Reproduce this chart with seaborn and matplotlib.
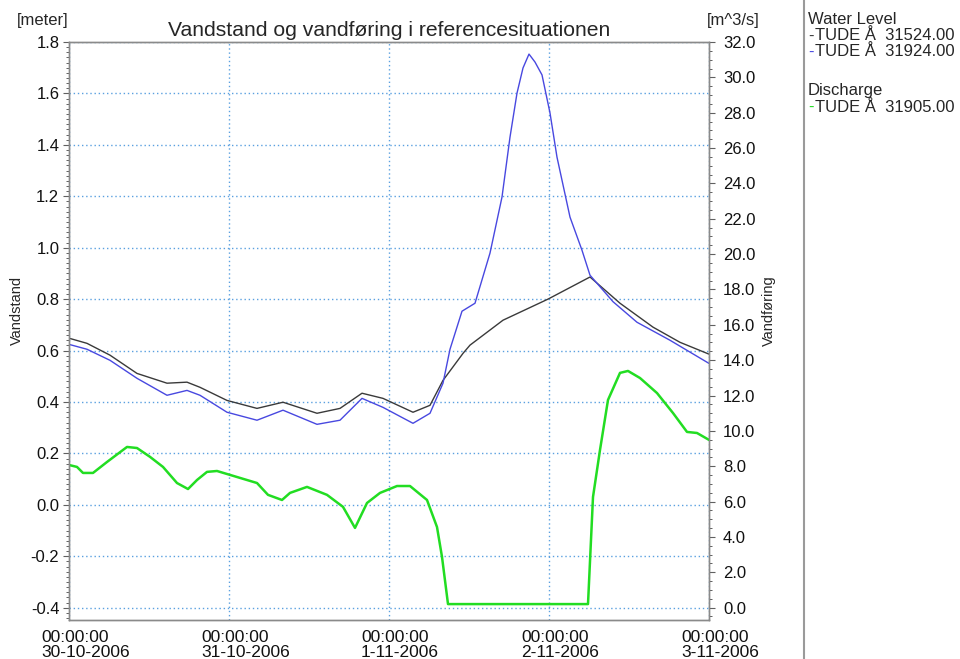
import pandas as pd
import matplotlib
matplotlib.use("Agg")
import matplotlib.pyplot as plt
import matplotlib.dates as mdates
import matplotlib.transforms as mtransforms
from matplotlib.ticker import MultipleLocator, FormatStrFormatter
from matplotlib.lines import Line2D
import seaborn as sns

# data (hours after 30-10-2006 00:00)
start = pd.Timestamp("2006-10-30 00:00")

wl1_hours = [0, 2.7, 6.15, 10.2, 14.7, 17.7, 19.65, 23.7, 28.2, 32.1, 37.2, 40.65,
             43.95, 47.1, 51.6, 54.15, 56.1, 59.1, 60.15, 65.1, 71.85, 78.15,
             82.65, 87.6, 91.65, 96]
wl1_level = [0.648, 0.628, 0.582, 0.511, 0.473, 0.477, 0.457, 0.406, 0.375, 0.399,
             0.356, 0.375, 0.434, 0.414, 0.360, 0.387, 0.484, 0.589, 0.621, 0.718,
             0.800, 0.886, 0.784, 0.691, 0.632, 0.586]

wl2_hours = [0, 2.7, 6.15, 10.2, 14.7, 17.7, 19.65, 23.7, 28.2, 32.1, 37.2, 40.65,
             43.95, 47.1, 51.6, 54.15, 56.1, 57.15, 58.95, 60.9, 63.15, 64.95,
             66.15, 67.2, 68.1, 69.0, 69.9, 70.95, 72.15, 73.2, 75.15, 76.95,
             78.15, 81.6, 85.2, 90.15, 96]
wl2_level = [0.624, 0.605, 0.562, 0.492, 0.426, 0.445, 0.426, 0.360, 0.329, 0.368,
             0.313, 0.329, 0.414, 0.379, 0.317, 0.356, 0.473, 0.605, 0.753, 0.784,
             0.979, 1.197, 1.430, 1.601, 1.699, 1.753, 1.722, 1.672, 1.524, 1.352,
             1.119, 0.990, 0.893, 0.790, 0.710, 0.640, 0.550]

q_hours = [0, 1.2, 2.1, 3.6, 5.7, 8.7, 10.2, 12.15, 14.1, 16.2, 17.85, 19.2, 20.7,
           22.2, 25.2, 28.2, 29.85, 31.95, 33.15, 35.7, 38.7, 41.1, 42.9, 44.7,
           46.65, 49.2, 51.15, 53.7, 55.2, 55.95, 56.85, 77.85, 78.6, 79.65,
           80.85, 82.65, 83.85, 85.65, 88.2, 90.6, 92.7, 94.2, 96]
q_flow = [8.07, 7.96, 7.62, 7.62, 8.24, 9.09, 9.03, 8.53, 7.96, 7.05, 6.71, 7.22,
          7.68, 7.73, 7.39, 7.05, 6.38, 6.09, 6.49, 6.83, 6.38, 5.70, 4.51, 5.92,
          6.49, 6.88, 6.88, 6.09, 4.56, 2.87, 0.2, 0.2, 6.26, 8.92, 11.75, 13.28,
          13.39, 12.99, 12.14, 11.01, 9.94, 9.88, 9.49]

day_ticks = pd.date_range(start, periods=5, freq="D")


def to_frame(hours, vals):
    return pd.DataFrame({"time": start + pd.to_timedelta(hours, unit="h"), "v": vals})


df1 = to_frame(wl1_hours, wl1_level)
df2 = to_frame(wl2_hours, wl2_level)
dfq = to_frame(q_hours, q_flow)

sns.set_style("white")
plt.rcParams['font.family'] = ['Liberation Sans', 'DejaVu Sans']

fig = plt.figure(figsize=(9.6, 6.59), dpi=100)
ax = fig.add_axes([69 / 960, 1 - 620 / 659, 640 / 960, 578 / 659])
ax2 = ax.twinx()

sns.lineplot(data=df1, x="time", y="v", ax=ax, color="#3a3a3a", linewidth=1.0)
sns.lineplot(data=df2, x="time", y="v", ax=ax, color="#4848e0", linewidth=1.0)
sns.lineplot(data=dfq, x="time", y="v", ax=ax2, color="#22dd22", linewidth=1.8)

ax.set_xlim(day_ticks[0], day_ticks[-1])
ax.set_ylim(-0.448, 1.8)
ax2.set_ylim(-0.7, 32.0)

ax.yaxis.set_major_locator(MultipleLocator(0.2))
ax.yaxis.set_minor_locator(MultipleLocator(0.02))
ax.yaxis.set_major_formatter(FormatStrFormatter("%.1f"))
ax2.yaxis.set_major_locator(MultipleLocator(2.0))
ax2.yaxis.set_minor_locator(MultipleLocator(0.5))
ax2.yaxis.set_major_formatter(FormatStrFormatter("%.1f"))

# x tick labels: two-line block, left edge a bit left of the tick
ax.set_xticks(day_ticks)
ax.set_xticklabels([])
ax.xaxis.set_minor_locator(mdates.HourLocator(byhour=range(0, 24, 2)))
shift = mtransforms.ScaledTranslation(-28 / 100, -10 / 100, fig.dpi_scale_trans)
for d in day_ticks:
    ax.text(d, 0, f"{d:%H:%M:%S}\n{d.day}-{d.month}-{d.year}",
            transform=ax.get_xaxis_transform() + shift, ha="left", va="top",
            fontsize=12.5, linespacing=1.0, color="#111111")

ax.grid(True, which="major", color="#5aa0e0", linestyle=(0, (1, 2)), linewidth=1.0)
ax.set_axisbelow(True)

for a in (ax, ax2):
    for s in a.spines.values():
        s.set_color("#8a8a8a")
        s.set_linewidth(1.0)
    a.tick_params(which="major", direction="out", length=4, width=0.8,
                  color="#606060", labelsize=12, labelcolor="#111111")
    a.tick_params(which="minor", direction="out", length=2.5, width=0.7, color="#606060")
ax.tick_params(axis="y", pad=3)
ax2.tick_params(axis="y", pad=6)

ax.set_xlabel("")
ax.set_ylabel("Vandstand", fontsize=10.5)
ax2.set_ylabel("Vandføring", fontsize=10.5)
ax.yaxis.set_label_coords(-45 / 640, 0.536)
ax2.yaxis.set_label_coords(1 + 53 / 640, 0.536)

ax.set_title("Vandstand og vandføring i referencesituationen", fontsize=15.2, pad=4)
fig.text(17 / 960, 1 - 20 / 659, "[meter]", fontsize=12, va="center")
fig.text(707 / 960, 1 - 20 / 659, "[m^3/s]", fontsize=12, va="center")

# legend panel
fig.add_artist(Line2D([804 / 960, 804 / 960], [0, 1], transform=fig.transFigure,
                      color="#9a9a9a", linewidth=1.5))
legend_rows = [
    (19, None, "Water Level"),
    (36, "#3a3a3a", "TUDE Å  31524.00"),
    (52, "#4848e0", "TUDE Å  31924.00"),
    (91, None, "Discharge"),
    (107, "#22dd22", "TUDE Å  31905.00"),
]
for y, col, txt in legend_rows:
    yy = 1 - y / 659
    if col is None:
        fig.text(808 / 960, yy, txt, fontsize=12, va="center")
    else:
        fig.text(808 / 960, yy, "-", fontsize=12, va="center", color=col)
        fig.text(815 / 960, yy, txt, fontsize=12, va="center")

fig.savefig("out.png", dpi=100)
